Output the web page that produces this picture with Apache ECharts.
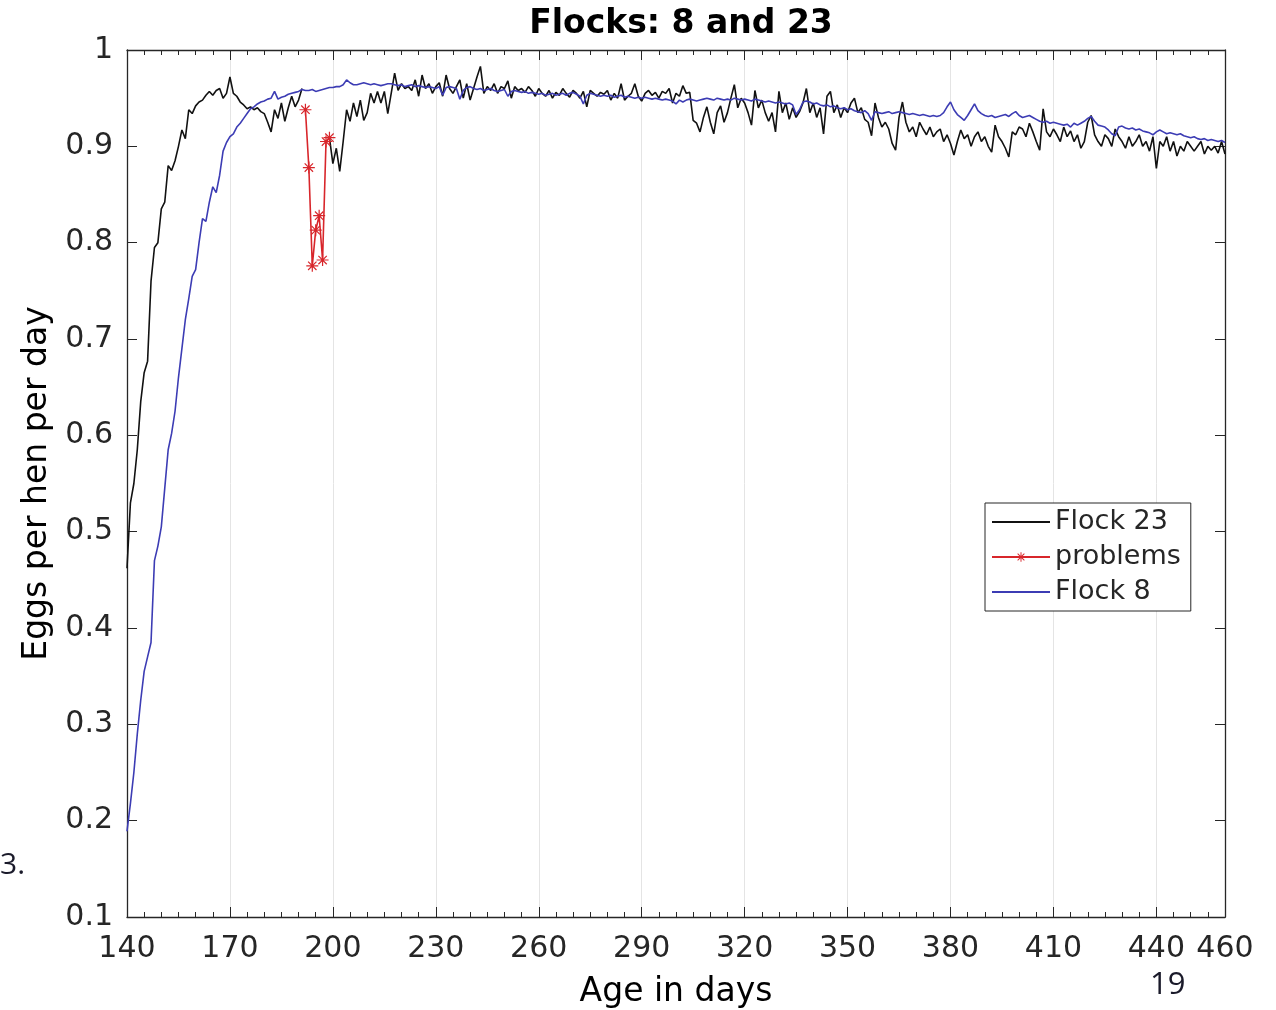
<!DOCTYPE html>
<html><head><meta charset="utf-8">
<script src="https://cdn.jsdelivr.net/npm/echarts@6/dist/echarts.min.js"></script>
<style>html,body{margin:0;padding:0;background:#fff}#chart{width:1276px;height:1010px}</style>
</head><body><div id="chart"></div>
<script>
const firstDay = 140, lastDay = 460;

// Flock 23 (daily, starting at day 140); null where the "problems" segment replaces it
const flock23 = [
  0.462, 0.53, 0.55, 0.585, 0.635, 0.665, 0.677, 0.76, 0.795, 0.80,
  0.835, 0.842, 0.88, 0.875, 0.885, 0.90, 0.917, 0.908, 0.938, 0.934,
  0.942, 0.946, 0.948, 0.953, 0.957, 0.953, 0.958, 0.96, 0.95, 0.955,
  0.972, 0.955, 0.952, 0.946, 0.943, 0.939, 0.941, 0.938, 0.94, 0.936,
  0.934, 0.925, 0.915, 0.938, 0.929, 0.945, 0.926, 0.94, 0.952, 0.941,
  0.948, 0.96, null, null, null, null, null, null, null, 0.909,
  0.882, 0.898, 0.874, 0.905, 0.938, 0.926, 0.945, 0.931, 0.948, 0.927,
  0.935, 0.955, 0.945, 0.957, 0.945, 0.957, 0.934, 0.955, 0.976, 0.958,
  0.965, 0.96, 0.962, 0.958, 0.969, 0.952, 0.974, 0.96, 0.965, 0.955,
  0.962, 0.966, 0.952, 0.974, 0.96, 0.955, 0.962, 0.969, 0.95, 0.965,
  0.948, 0.96, 0.972, 0.983, 0.955, 0.962, 0.958, 0.965, 0.955, 0.962,
  0.96, 0.968, 0.95, 0.962, 0.958, 0.96, 0.956, 0.962, 0.958, 0.952,
  0.96, 0.955, 0.952, 0.958, 0.95, 0.956, 0.953, 0.96, 0.955, 0.951,
  0.958, 0.955, 0.95, 0.957, 0.941, 0.958, 0.955, 0.952, 0.956, 0.954,
  0.958, 0.948, 0.955, 0.95, 0.965, 0.948, 0.952, 0.955, 0.965, 0.952,
  0.947, 0.955, 0.958, 0.953, 0.956, 0.95, 0.957, 0.955, 0.96, 0.945,
  0.955, 0.952, 0.963, 0.955, 0.956, 0.927, 0.924, 0.915, 0.93, 0.941,
  0.925, 0.913, 0.935, 0.942, 0.925, 0.935, 0.95, 0.964, 0.94, 0.95,
  0.945, 0.935, 0.922, 0.958, 0.94, 0.948, 0.935, 0.926, 0.935, 0.915,
  0.957, 0.935, 0.945, 0.928, 0.94, 0.93, 0.936, 0.945, 0.96, 0.935,
  0.945, 0.93, 0.94, 0.913, 0.952, 0.957, 0.935, 0.943, 0.93, 0.94,
  0.935, 0.945, 0.95, 0.935, 0.94, 0.928, 0.925, 0.911, 0.945, 0.93,
  0.92, 0.925, 0.918, 0.903, 0.896, 0.93, 0.946, 0.925, 0.915, 0.92,
  0.91, 0.925, 0.918, 0.912, 0.92, 0.91, 0.915, 0.918, 0.905, 0.912,
  0.903, 0.891, 0.905, 0.917, 0.908, 0.912, 0.9, 0.91, 0.915, 0.905,
  0.91, 0.9, 0.894, 0.922, 0.91, 0.905, 0.898, 0.889, 0.915, 0.912,
  0.92, 0.918, 0.91, 0.924, 0.915, 0.905, 0.896, 0.939, 0.915, 0.91,
  0.918, 0.912, 0.905, 0.92, 0.91, 0.916, 0.905, 0.912, 0.898, 0.905,
  0.925, 0.932, 0.912, 0.905, 0.9, 0.912, 0.908, 0.9, 0.918, 0.91,
  0.905, 0.898, 0.91, 0.9, 0.905, 0.912, 0.9, 0.905, 0.895, 0.91,
  0.877, 0.905, 0.9, 0.91, 0.895, 0.905, 0.89, 0.9, 0.895, 0.905,
  0.9, 0.895, 0.9, 0.905, 0.892, 0.9, 0.896, 0.9, 0.893, 0.905,
  0.892
];

// Flock 8 (daily, starting at day 140)
const flock8 = [
  0.189, 0.218, 0.25, 0.29, 0.325, 0.355, 0.37, 0.385, 0.47, 0.485,
  0.505, 0.545, 0.585, 0.602, 0.625, 0.66, 0.69, 0.72, 0.742, 0.765,
  0.772, 0.80, 0.825, 0.822, 0.842, 0.858, 0.852, 0.87, 0.895, 0.904,
  0.91, 0.913, 0.92, 0.924, 0.929, 0.934, 0.939, 0.941, 0.944, 0.946,
  0.947, 0.949, 0.95, 0.957, 0.949, 0.951, 0.952, 0.954, 0.955, 0.956,
  0.957, 0.959, 0.958, 0.958, 0.959, 0.957, 0.958, 0.959, 0.96, 0.961,
  0.961, 0.962, 0.962, 0.964, 0.969, 0.966, 0.964, 0.964, 0.965, 0.966,
  0.965, 0.964, 0.965, 0.964, 0.963, 0.964, 0.965, 0.965, 0.964, 0.963,
  0.964, 0.962, 0.963, 0.964, 0.962, 0.963, 0.962, 0.961, 0.962, 0.961,
  0.96, 0.962, 0.953, 0.961, 0.962, 0.961, 0.96, 0.949, 0.958, 0.961,
  0.962, 0.96, 0.959, 0.96, 0.958, 0.959, 0.96, 0.958, 0.957, 0.958,
  0.959, 0.952, 0.957, 0.958, 0.957, 0.956, 0.957, 0.955, 0.956, 0.955,
  0.954, 0.955, 0.953, 0.954, 0.955, 0.953, 0.954, 0.955, 0.953, 0.955,
  0.956, 0.954, 0.952, 0.944, 0.953, 0.955, 0.954, 0.953, 0.952, 0.953,
  0.952, 0.953, 0.951, 0.952, 0.953, 0.951, 0.952, 0.951, 0.95, 0.951,
  0.95, 0.951, 0.95, 0.949, 0.95, 0.949, 0.948, 0.949, 0.948, 0.947,
  0.944, 0.948, 0.946, 0.948, 0.949, 0.948, 0.947, 0.948, 0.949, 0.95,
  0.949, 0.948, 0.95, 0.949, 0.948, 0.949, 0.948, 0.95, 0.949, 0.948,
  0.949, 0.948, 0.947, 0.949, 0.948, 0.947, 0.946, 0.947, 0.946, 0.945,
  0.946, 0.945, 0.944, 0.945, 0.943, 0.933, 0.938, 0.946, 0.947, 0.946,
  0.944, 0.945, 0.943, 0.942, 0.943, 0.941, 0.942, 0.94, 0.939, 0.94,
  0.938, 0.939, 0.937, 0.936, 0.935, 0.937, 0.934, 0.927, 0.936, 0.935,
  0.934, 0.935, 0.936, 0.934, 0.935, 0.936, 0.935, 0.934, 0.933, 0.934,
  0.933, 0.932, 0.933, 0.932, 0.931, 0.932, 0.931, 0.932, 0.935, 0.941,
  0.946, 0.938, 0.933, 0.93, 0.927, 0.932, 0.938, 0.944, 0.937, 0.934,
  0.932, 0.931, 0.932, 0.93, 0.931, 0.932, 0.933, 0.931, 0.934, 0.936,
  0.932, 0.93, 0.931, 0.932, 0.93, 0.928, 0.926, 0.925, 0.926, 0.924,
  0.925, 0.924, 0.923, 0.922, 0.923, 0.92, 0.924, 0.922, 0.924, 0.926,
  0.929, 0.931, 0.926, 0.922, 0.921, 0.92, 0.917, 0.913, 0.911, 0.92,
  0.921, 0.919, 0.918, 0.919, 0.917, 0.918, 0.916, 0.915, 0.914, 0.912,
  0.915, 0.917, 0.915, 0.913, 0.914, 0.913, 0.912, 0.913, 0.911, 0.91,
  0.909, 0.91, 0.908, 0.907, 0.908, 0.906, 0.907, 0.906, 0.905, 0.906,
  0.904
];

const problemDays = [192, 193, 194, 195, 196, 197, 198, 199];
const problemValues = [0.938, 0.878, 0.776, 0.813, 0.828, 0.782, 0.905, 0.909];

const xMajorTicks = [140, 170, 200, 230, 260, 290, 320, 350, 380, 410, 440];
const xTickLabels = [140, 170, 200, 230, 260, 290, 320, 350, 380, 410, 440, 460];

const days = [];
for (let d = firstDay; d <= lastDay; d++) days.push(d);
const pairs = (xs, ys) => xs.map((x, i) => [x, ys[i]]);

const FONT = 'DejaVu Sans';
const AX = '#262626';
const asterisk = 'path://M-1,-10L1,-10L1,10L-1,10Z M-10,-1L10,-1L10,1L-10,1Z M-6.3,-7.7L7.7,6.3L6.3,7.7L-7.7,-6.3Z M-7.7,6.3L6.3,-7.7L7.7,-6.3L-6.3,7.7Z';

const chart = echarts.init(document.getElementById('chart'), null, {renderer: 'canvas'});

const xBase = {type: 'value', min: firstDay, max: lastDay, interval: 5, axisLine: {onZero: false}};
chart.setOption({
  animation: false,
  backgroundColor: '#fff',
  title: {
    text: 'Flocks: 8 and 23', left: 676, top: 3, textAlign: 'center',
    textStyle: {fontFamily: FONT, fontSize: 33, fontWeight: 'bold', color: '#000'}
  },
  grid: {left: 127, right: 51, top: 50, bottom: 93, containLabel: false, outerBoundsMode: 'none'},
  legend: {
    orient: 'vertical', left: 985, top: 503,
    padding: [4, 10, 4, 6], itemWidth: 58, itemHeight: 12, itemGap: 5,
    borderColor: AX, borderWidth: 1, backgroundColor: '#fff',
    textStyle: {fontFamily: FONT, fontSize: 27, color: AX, lineHeight: 30},
    data: [
      {name: 'Flock 23', itemStyle: {opacity: 0}},
      {name: 'problems'},
      {name: 'Flock 8', itemStyle: {opacity: 0}}
    ]
  },
  xAxis: [
    Object.assign({}, xBase, {
      position: 'bottom',
      name: 'Age in days', nameLocation: 'middle', nameGap: 59,
      nameTextStyle: {fontFamily: FONT, fontSize: 33, color: '#000'},
      axisLine: {show: true, onZero: false, lineStyle: {color: AX, width: 1.3}},
      axisTick: {show: true, inside: true, length: 10, customValues: xMajorTicks, lineStyle: {color: AX}},
      axisLabel: {customValues: xTickLabels, margin: 17, fontFamily: FONT, fontSize: 30, color: AX},
      splitLine: {show: true, lineStyle: {color: '#e4e4e4', width: 1}}
    }),
    Object.assign({}, xBase, {
      position: 'top',
      axisLine: {show: true, onZero: false, lineStyle: {color: AX, width: 1.3}},
      axisTick: {show: true, inside: true, length: 10, customValues: xMajorTicks, lineStyle: {color: AX}},
      axisLabel: {show: false}, splitLine: {show: false}
    }),
    Object.assign({}, xBase, {
      position: 'top', // flips to bottom (bottom already used)
      axisLine: {show: false, onZero: false},
      axisTick: {show: true, inside: true, length: 5, lineStyle: {color: AX}},
      axisLabel: {show: false}, splitLine: {show: false}
    }),
    Object.assign({}, xBase, {
      position: 'bottom', // flips to top
      axisLine: {show: false, onZero: false},
      axisTick: {show: true, inside: true, length: 5, lineStyle: {color: AX}},
      axisLabel: {show: false}, splitLine: {show: false}
    })
  ],
  yAxis: [
    {
      type: 'value', min: 0.1, max: 1, interval: 0.1, position: 'left',
      name: 'Eggs per hen per day', nameLocation: 'middle', nameGap: 70, nameRotate: 90,
      nameTextStyle: {fontFamily: FONT, fontSize: 33, color: '#000'},
      axisLine: {show: true, onZero: false, lineStyle: {color: AX, width: 1.3}},
      axisTick: {show: true, inside: true, length: 10, lineStyle: {color: AX}},
      axisLabel: {margin: 14, fontFamily: FONT, fontSize: 30, color: AX,
        formatter: v => (Math.abs(v - 1) < 1e-9 ? '1' : v.toFixed(1))},
      splitLine: {show: false}
    },
    {
      type: 'value', min: 0.1, max: 1, interval: 0.1, position: 'right',
      axisLine: {show: true, onZero: false, lineStyle: {color: AX, width: 1.3}},
      axisTick: {show: true, inside: true, length: 10, lineStyle: {color: AX}},
      axisLabel: {show: false}, splitLine: {show: false}
    }
  ],
  series: [
    {
      name: 'Flock 23', type: 'line', xAxisIndex: 0, yAxisIndex: 0,
      data: pairs(days, flock23), symbol: 'none', connectNulls: false,
      lineStyle: {color: '#111', width: 1.6}, itemStyle: {color: '#111'}
    },
    {
      name: 'problems', type: 'line', xAxisIndex: 0, yAxisIndex: 0,
      data: pairs(problemDays, problemValues), symbol: asterisk, symbolSize: 12,
      showSymbol: true,
      lineStyle: {color: '#d8262b', width: 1.6}, itemStyle: {color: '#d8262b'}
    },
    {
      name: 'Flock 8', type: 'line', xAxisIndex: 0, yAxisIndex: 0,
      data: pairs(days, flock8), symbol: 'none',
      lineStyle: {color: '#3c3cb4', width: 1.6}, itemStyle: {color: '#3c3cb4'}
    }
  ],
  graphic: [
    {type: 'text', left: 0, top: 850, style: {text: '3.', font: '30px "Open Sans"', fill: '#1a1a2a'}},
    {type: 'text', left: 1150, top: 970, style: {text: '19', font: '31px "Open Sans"', fill: '#1a1a2a'}}
  ]
});
</script></body></html>
